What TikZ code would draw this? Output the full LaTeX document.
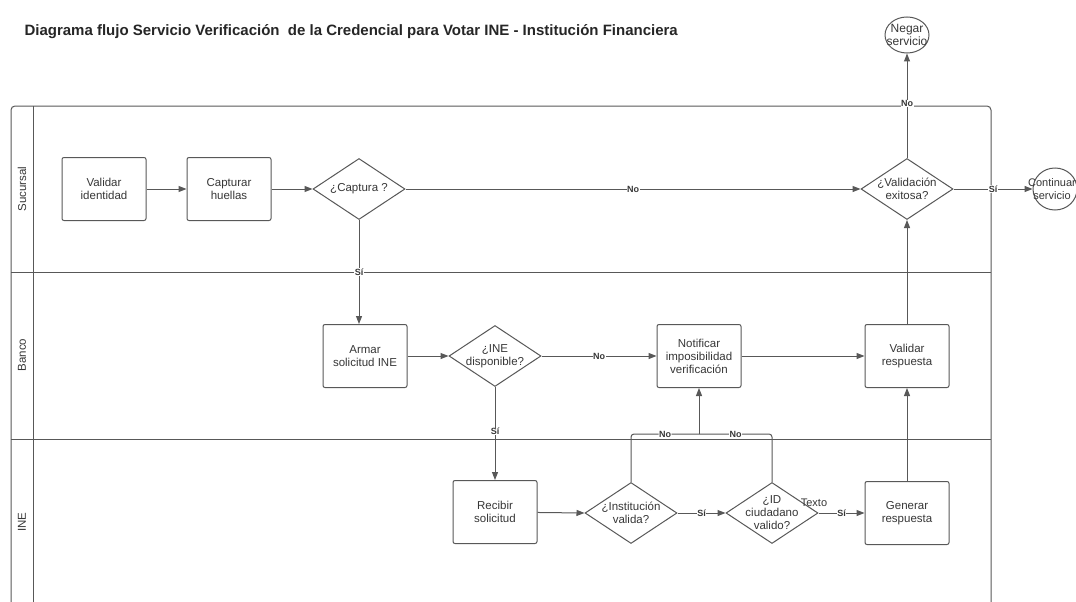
\documentclass[tikz,border=0pt]{standalone}
\usepackage{fontspec}
\setmainfont{Liberation Sans}
\usetikzlibrary{arrows.meta,shapes.geometric}
\definecolor{lineg}{RGB}{88,88,88}
\definecolor{txtg}{RGB}{55,55,55}

\begin{document}
\begin{tikzpicture}[x=1pt,y=-1pt,
  ln/.style={draw=lineg, line width=1pt},
  arr/.style={ln, -{Triangle[length=8pt,width=6pt]}},
  task/.style={draw=lineg, line width=1pt, rounded corners=2pt, minimum width=84pt,
    minimum height=63pt, align=center, text=txtg, font=\fontsize{11.5}{13}\selectfont},
  decision/.style={diamond, draw=lineg, line width=1pt, minimum width=92pt,
    minimum height=61pt, inner sep=0pt},
  dtext/.style={align=center, text=txtg, font=\fontsize{11.5}{13}\selectfont},
  term/.style={ellipse, draw=lineg, line width=1pt, inner sep=0pt},
  lbl/.style={fill=white, inner sep=0.5pt, text=txtg, font=\fontsize{9}{10}\selectfont\bfseries},
  lane/.style={rotate=90, text=txtg, font=\fontsize{11.5}{13}\selectfont}]
  \useasboundingbox (0,0) rectangle (1076,602);
  \fill[white] (0,0) rectangle (1076,602);

  \node[anchor=west, text=black!85, font=\fontsize{15}{17}\selectfont\bfseries] (title) at (21,32)
    {Diagrama flujo Servicio Verificación\ \ de la Credencial para Votar INE - Institución Financiera};

  % pool and lanes
  \draw[ln, rounded corners=4pt] (11,602) -- (11,106) -- (991,106) -- (991,602);
  \draw[ln] (33,106) -- (33,602);
  \draw[ln] (11,272) -- (991,272);
  \draw[ln] (11,439) -- (991,439);
  \node[lane] (lsuc) at (22,189) {Sucursal};
  \node[lane] (lban) at (22,355) {Banco};
  \node[lane] (line) at (22,522) {INE};

  % Sucursal
  \node[task] (vid) at (104,189) {Validar\\identidad};
  \node[task] (hue) at (229,189) {Capturar\\huellas};
  \node[decision, label={[dtext]center:{¿Captura ?}}] (cap) at (359,189) {};
  \node[decision, label={[dtext]center:{¿Validación\\exitosa?}}] (val) at (907,189) {};
  \node[term, minimum width=44pt, minimum height=36pt,
    label={[dtext, font=\fontsize{12}{13}\selectfont]center:{Negar\\servicio}}] (neg) at (907,35) {};
  \node[term, minimum width=44pt, minimum height=42pt,
    label={[dtext, xshift=-3pt, font=\fontsize{11}{13}\selectfont]center:{Continuar\\servicio}}] (cont) at (1055,189) {};

  % Banco
  \node[task] (arm) at (365,356) {Armar\\solicitud INE};
  \node[decision, label={[dtext]center:{¿INE\\disponible?}}] (ined) at (495,356) {};
  \node[task] (notif) at (699,356) {Notificar\\imposibilidad\\verificación};
  \node[task] (valr) at (907,356) {Validar\\respuesta};

  % INE
  \node[task] (rec) at (495,512) {Recibir\\solicitud};
  \node[decision, label={[dtext]center:{¿Institución\\valida?}}] (inst) at (631,513) {};
  \node[decision, label={[dtext]center:{¿ID\\ciudadano\\valido?}}] (idv) at (772,513) {};
  \node[task] (gen) at (907,513) {Generar\\respuesta};
  \node[text=txtg, font=\fontsize{11}{12}\selectfont] (texto) at (814,503) {Texto};
  \coordinate (jn) at (699,434);

  % connectors
  \draw[arr] (vid) -- (hue);
  \draw[arr] (hue) -- (cap);
  \draw[arr] (cap.east) -- (val.west) node[lbl, midway] {No};
  \draw[arr] (cap.south) -- (cap.south |- arm.north) node[lbl, midway] {Sí};
  \draw[arr] (arm) -- (ined);
  \draw[arr] (ined.east) -- (notif.west) node[lbl, midway] {No};
  \draw[arr] (ined.south) -- (rec.north) node[lbl, pos=0.48] {Sí};
  \draw[arr] (notif) -- (valr);
  \draw[arr] (valr) -- (val.south);
  \draw[arr] (val.north) -- (neg.south) node[lbl, pos=0.52] {No};
  \draw[arr] (val.east) -- (cont.west) node[lbl, midway] {Sí};
  \draw[arr] (rec) -- (inst.west);
  \draw[arr] (inst.east) -- (idv.west) node[lbl, midway] {Sí};
  \draw[arr] (idv.east) -- (gen.west) node[lbl, midway] {Sí};
  \draw[arr] (gen) -- (valr);
  \draw[ln, rounded corners=3pt] (inst.north) |- (jn) node[lbl, pos=0.75] {No};
  \draw[ln, rounded corners=3pt] (idv.north) |- (jn) node[lbl, pos=0.75] {No};
  \draw[arr] (jn) -- (notif.south);
\end{tikzpicture}
\end{document}
